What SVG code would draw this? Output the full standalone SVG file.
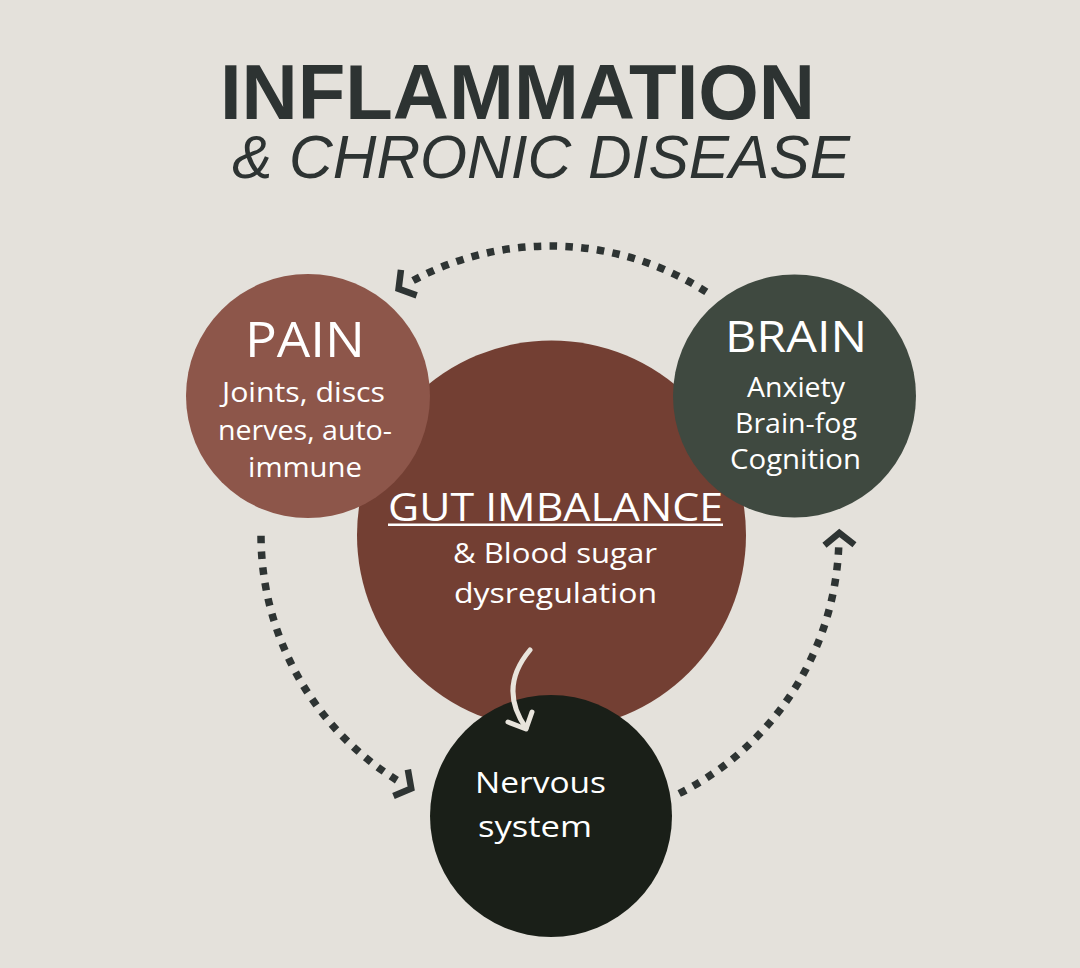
<svg xmlns="http://www.w3.org/2000/svg" width="1080" height="968" viewBox="0 0 1080 968">
<style>
.t{font-family:"Open Sans","Liberation Sans",sans-serif;fill:#ffffff;text-anchor:middle}
.dots{fill:none;stroke:#2e3433;stroke-width:7.5;stroke-dasharray:7.5 8.3;stroke-linecap:butt}
.chev{fill:none;stroke:#2e3433;stroke-width:6.5;stroke-linejoin:miter;stroke-miterlimit:10}
.title{font-family:"Liberation Sans",Arial,sans-serif;fill:#2d3332}
</style>
<rect width="1080" height="968" fill="#e4e1db"/>
<g id="title">
<text class="title" x="220" y="119" font-size="78" font-weight="bold" textLength="595" lengthAdjust="spacingAndGlyphs">INFLAMMATION</text>
<text class="title" x="232" y="178" font-size="61" font-style="italic" textLength="618" lengthAdjust="spacingAndGlyphs">&amp; CHRONIC DISEASE</text>
</g>
<g id="gut">
<circle cx="551.5" cy="535" r="194.5" fill="#733f33"/>
<text class="t" x="555.5" y="521" font-size="38" textLength="335" lengthAdjust="spacingAndGlyphs">GUT IMBALANCE</text>
<rect x="388" y="523.5" width="335" height="2.5" fill="#ffffff"/>
<text class="t" x="555" y="563" font-size="27" textLength="204" lengthAdjust="spacingAndGlyphs">&amp; Blood sugar</text>
<text class="t" x="555.5" y="603" font-size="27" textLength="203" lengthAdjust="spacingAndGlyphs">dysregulation</text>
</g>
<g id="pain">
<circle cx="308" cy="396" r="122" fill="#8d564a"/>
<text class="t" x="305" y="357" font-size="49" textLength="120" lengthAdjust="spacingAndGlyphs">PAIN</text>
<text class="t" x="303.5" y="402" font-size="27" textLength="163" lengthAdjust="spacingAndGlyphs">Joints, discs</text>
<text class="t" x="305" y="440" font-size="27" textLength="174" lengthAdjust="spacingAndGlyphs">nerves, auto-</text>
<text class="t" x="305" y="477" font-size="27" textLength="114" lengthAdjust="spacingAndGlyphs">immune</text>
</g>
<g id="brain">
<circle cx="794.5" cy="396" r="121.5" fill="#3f4940"/>
<text class="t" x="796" y="352" font-size="44" textLength="142" lengthAdjust="spacingAndGlyphs">BRAIN</text>
<text class="t" x="796" y="397" font-size="27" textLength="98" lengthAdjust="spacingAndGlyphs">Anxiety</text>
<text class="t" x="796" y="433" font-size="27" textLength="122" lengthAdjust="spacingAndGlyphs">Brain-fog</text>
<text class="t" x="795.5" y="469" font-size="27" textLength="131" lengthAdjust="spacingAndGlyphs">Cognition</text>
</g>
<g id="nervous">
<circle cx="551" cy="816" r="121" fill="#1a1f18"/>
<text class="t" x="540.5" y="793" font-size="29" textLength="131" lengthAdjust="spacingAndGlyphs">Nervous</text>
<text class="t" x="535" y="837" font-size="29" textLength="114" lengthAdjust="spacingAndGlyphs">system</text>
</g>
<g id="connectors">
<path class="dots" d="M 706.3 291.9 A 289 289 0 0 0 412.7 280.7"/>
<polyline class="chev" points="-12,-15 0,0 -12,15" transform="translate(398.6 288.9) rotate(148.4)"/>
<path class="dots" d="M 261 535.8 A 289 289 0 0 0 396.9 780.2"/>
<polyline class="chev" points="-12,-15 0,0 -12,15" transform="translate(411.2 788.5) rotate(28.7)"/>
<path class="dots" d="M 679.2 793.5 A 289 289 0 0 0 838.7 547.3"/>
<polyline class="chev" points="-12,-15 0,0 -12,15" transform="translate(839.3 533) rotate(-90.8)"/>
<path d="M 530 650 Q 498 688 526 728" fill="none" stroke="#e8e4dc" stroke-width="5" stroke-linecap="round"/>
<polyline points="508,722 526,729 532,712" fill="none" stroke="#e8e4dc" stroke-width="5" stroke-linecap="round" stroke-linejoin="round"/>
</g>
</svg>
